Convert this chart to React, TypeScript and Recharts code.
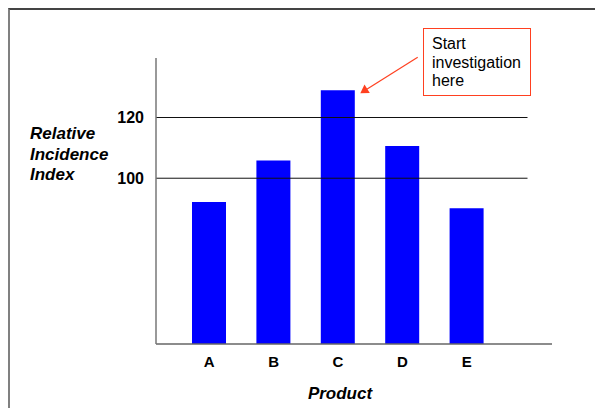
import { BarChart, Bar, XAxis, YAxis, ReferenceLine } from 'recharts';

const products = ['A', 'B', 'C', 'D', 'E'];
const incidence = [92.2, 105.8, 129.0, 110.6, 90.1];
const yTicks = [100, 120];
const yDomain = [45.4, 139.6];
const yLabelLines = ['Relative', 'Incidence', 'Index'];
const noteLines = ['Start', 'investigation', 'here'];

const font = '"Liberation Sans", Arial, sans-serif';

const data = products.map((name, i) => ({ name, value: incidence[i] }));

// gridlines stop short of the x axis end
const gridShort = 24.5;

function GridLine(props: any) {
  const { x1, y1, x2, y2 } = props;
  return <line x1={x1} y1={y1} x2={x2 - gridShort} y2={y2} stroke="#111" strokeWidth={1} />;
}

export default function App() {
  return (
    <div
      style={{
        position: 'absolute',
        left: 0,
        top: 0,
        width: 595,
        height: 408,
        overflow: 'hidden',
        background: '#fff',
        fontFamily: font,
      }}
    >
      {/* frame */}
      <div
        style={{
          position: 'absolute',
          left: 8,
          top: 8,
          width: 620,
          height: 430,
          borderLeft: '2px solid #808080',
          borderTop: '2px solid #444',
        }}
      />
      <BarChart
        width={595}
        height={408}
        data={data}
        margin={{ top: 58, right: 43, bottom: 34, left: 96 }}
        style={{ position: 'absolute', left: 0, top: 0 }}
      >
        <XAxis
          dataKey="name"
          height={30}
          padding={{ left: 21, right: 53 }}
          axisLine={{ stroke: '#666', strokeWidth: 1.5 }}
          tickLine={false}
          tickSize={0}
          tickMargin={12}
          tick={{ fill: '#000', fontSize: 15, fontWeight: 'bold', fontFamily: font }}
        />
        <YAxis
          width={60}
          domain={yDomain}
          ticks={yTicks}
          allowDataOverflow
          axisLine={{ stroke: '#777', strokeWidth: 1.5 }}
          tickLine={false}
          tickSize={0}
          tickMargin={12}
          tick={{ fill: '#000', fontSize: 16, fontWeight: 'bold', fontFamily: font }}
        />
        {yTicks.map((t) => (
          <ReferenceLine key={t} y={t} shape={GridLine} />
        ))}
        <Bar dataKey="value" fill="#0000FF" barSize={34} isAnimationActive={false} />
      </BarChart>

      {/* y axis title */}
      <div
        style={{
          position: 'absolute',
          left: 30,
          top: 124,
          fontSize: 17,
          lineHeight: '20.5px',
          fontWeight: 'bold',
          fontStyle: 'italic',
        }}
      >
        {yLabelLines.map((l) => (
          <div key={l}>{l}</div>
        ))}
      </div>

      {/* x axis title */}
      <div
        style={{
          position: 'absolute',
          left: 290,
          width: 100,
          top: 384,
          textAlign: 'center',
          fontSize: 17,
          lineHeight: '20px',
          fontWeight: 'bold',
          fontStyle: 'italic',
        }}
      >
        Product
      </div>

      {/* annotation */}
      <div
        style={{
          position: 'absolute',
          left: 423,
          top: 28,
          width: 108,
          height: 68,
          border: '1px solid #FF4020',
          boxSizing: 'border-box',
          padding: '6px 0 0 8px',
          fontSize: 16,
          lineHeight: '18.5px',
          color: '#000',
        }}
      >
        {noteLines.map((l) => (
          <div key={l}>{l}</div>
        ))}
      </div>
      <svg
        width={595}
        height={408}
        style={{ position: 'absolute', left: 0, top: 0, pointerEvents: 'none' }}
      >
        <line x1={417.7} y1={57.3} x2={366} y2={89.8} stroke="#FF4020" strokeWidth={1.2} />
        <polygon points="360.3,93.3 364.5,84.5 369.8,93" fill="#FF4020" />
      </svg>
    </div>
  );
}
